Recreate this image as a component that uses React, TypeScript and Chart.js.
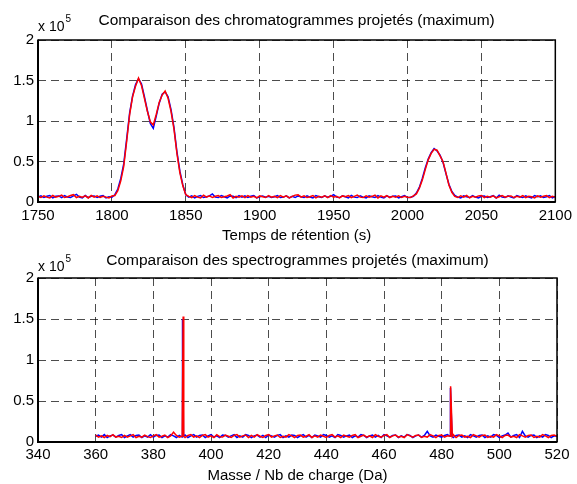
import React, { useEffect, useRef } from 'react';
import { Chart, registerables } from 'chart.js';

Chart.register(...registerables);

const FONT = '"Liberation Sans", Arial, Helvetica, sans-serif';

// ---------- Chromatogram (top plot): sampled every 2 s from 1750 s ----------
const chromaStart = 1750;
const chromaStep = 2;
const chromaRed = [
  0.07, 0.055, 0.075, 0.06, 0.05, 0.08, 0.06, 0.07, 0.085, 0.055,
  0.065, 0.08, 0.09, 0.055, 0.07, 0.06, 0.075, 0.05, 0.08, 0.06,
  0.075, 0.055, 0.07, 0.06, 0.05, 0.075, 0.08, 0.14, 0.26, 0.44,
  0.75, 1.08, 1.30, 1.43, 1.53, 1.44, 1.28, 1.12, 0.99, 0.95,
  1.08, 1.23, 1.32, 1.37, 1.28, 1.12, 0.90, 0.60, 0.36, 0.20,
  0.09, 0.07, 0.055, 0.08, 0.06, 0.05, 0.085, 0.06, 0.075, 0.055,
  0.07, 0.08, 0.055, 0.065, 0.075, 0.09, 0.05, 0.07, 0.06, 0.075,
  0.055, 0.08, 0.06, 0.07, 0.05, 0.075, 0.065, 0.055, 0.08, 0.06,
  0.07, 0.055, 0.08, 0.06, 0.075, 0.05, 0.07, 0.085, 0.09, 0.06,
  0.075, 0.055, 0.065, 0.08, 0.05, 0.07, 0.06, 0.075, 0.055, 0.08,
  0.06, 0.07, 0.05, 0.075, 0.065, 0.08, 0.055, 0.07, 0.085, 0.06,
  0.055, 0.075, 0.06, 0.07, 0.085, 0.05, 0.075, 0.06, 0.08, 0.055,
  0.07, 0.06, 0.075, 0.055, 0.07, 0.06, 0.055, 0.075, 0.10, 0.17,
  0.27, 0.40, 0.52, 0.60, 0.65, 0.64, 0.57, 0.50, 0.36, 0.21,
  0.12, 0.07, 0.055, 0.075, 0.06, 0.08, 0.05, 0.07, 0.06, 0.075,
  0.08, 0.055, 0.07, 0.06, 0.075, 0.05, 0.065, 0.08, 0.06, 0.07,
  0.075, 0.055, 0.07, 0.06, 0.08, 0.055, 0.07, 0.065, 0.05, 0.075,
  0.06, 0.07, 0.08, 0.055, 0.07, 0.06,
];
const chromaBlue = [
  0.06, 0.075, 0.055, 0.07, 0.08, 0.05, 0.07, 0.075, 0.055, 0.08,
  0.06, 0.055, 0.075, 0.095, 0.06, 0.05, 0.08, 0.055, 0.07, 0.075,
  0.055, 0.07, 0.08, 0.05, 0.065, 0.06, 0.09, 0.16, 0.29, 0.47,
  0.78, 1.10, 1.31, 1.45, 1.52, 1.46, 1.30, 1.13, 0.97, 0.91,
  1.06, 1.22, 1.33, 1.36, 1.30, 1.14, 0.92, 0.62, 0.38, 0.21,
  0.09, 0.06, 0.075, 0.05, 0.07, 0.08, 0.055, 0.065, 0.075, 0.10,
  0.06, 0.055, 0.08, 0.065, 0.05, 0.075, 0.07, 0.055, 0.08, 0.06,
  0.075, 0.055, 0.07, 0.08, 0.05, 0.065, 0.075, 0.06, 0.07, 0.055,
  0.065, 0.08, 0.055, 0.06, 0.075, 0.05, 0.07, 0.055, 0.075, 0.065,
  0.055, 0.075, 0.06, 0.05, 0.08, 0.065, 0.055, 0.075, 0.06, 0.07,
  0.09, 0.06, 0.055, 0.075, 0.065, 0.05, 0.08, 0.06, 0.055, 0.075,
  0.06, 0.05, 0.075, 0.065, 0.055, 0.08, 0.06, 0.05, 0.075, 0.06,
  0.07, 0.075, 0.05, 0.065, 0.08, 0.055, 0.06, 0.07, 0.11, 0.18,
  0.29, 0.42, 0.53, 0.61, 0.66, 0.63, 0.58, 0.49, 0.35, 0.22,
  0.13, 0.08, 0.06, 0.05, 0.075, 0.065, 0.055, 0.08, 0.06, 0.05,
  0.07, 0.075, 0.055, 0.065, 0.08, 0.05, 0.085, 0.06, 0.055, 0.075,
  0.06, 0.05, 0.08, 0.065, 0.055, 0.075, 0.06, 0.05, 0.08, 0.065,
  0.075, 0.055, 0.065, 0.08, 0.05, 0.07,
];
const chromaXTicks = [1750, 1800, 1850, 1900, 1950, 2000, 2050, 2100];

// ---------- Spectrogram (bottom plot): baseline every 1 Da from 360 ----------
const spectroStart = 360;
const spectroStep = 1;
const spectroRed = [
  0.085, 0.06, 0.075, 0.055, 0.08, 0.065, 0.09, 0.06, 0.07, 0.055,
  0.08, 0.06, 0.075, 0.09, 0.055, 0.07, 0.06, 0.085, 0.065, 0.055,
  0.075, 0.09, 0.06, 0.07, 0.085, 0.055, 0.075, 0.12, 0.08, 0.06,
  0.07, 0.055, 0.08, 0.09, 0.06, 0.075, 0.055, 0.08, 0.09, 0.06,
  0.075, 0.055, 0.09, 0.065, 0.06, 0.085, 0.07, 0.055, 0.08, 0.09,
  0.06, 0.075, 0.085, 0.055, 0.08, 0.06, 0.09, 0.07, 0.055, 0.08,
  0.09, 0.06, 0.075, 0.085, 0.055, 0.07, 0.06, 0.09, 0.075, 0.055,
  0.08, 0.085, 0.06, 0.07, 0.09, 0.055, 0.075, 0.06, 0.085, 0.07,
  0.055, 0.08, 0.09, 0.06, 0.075, 0.055, 0.085, 0.07, 0.06, 0.08,
  0.09, 0.055, 0.07, 0.085, 0.06, 0.075, 0.055, 0.09, 0.07, 0.06,
  0.08, 0.09, 0.055, 0.075, 0.085, 0.06, 0.07, 0.055, 0.09, 0.075,
  0.06, 0.08, 0.085, 0.055, 0.07, 0.06, 0.09, 0.075, 0.055, 0.08,
  0.085, 0.06, 0.075, 0.07, 0.09, 0.055, 0.08, 0.085, 0.06, 0.07,
  0.055, 0.09, 0.075, 0.06, 0.08, 0.085, 0.055, 0.07, 0.06, 0.09,
  0.075, 0.055, 0.08, 0.085, 0.06, 0.07, 0.055, 0.09, 0.075, 0.06,
  0.08, 0.085, 0.055, 0.07, 0.06, 0.09, 0.075, 0.055, 0.08, 0.085,
  0.07,
];
const spectroBlue = [
  0.07, 0.085, 0.06, 0.09, 0.055, 0.075, 0.085, 0.06, 0.08, 0.09,
  0.055, 0.075, 0.09, 0.06, 0.08, 0.085, 0.055, 0.075, 0.06, 0.09,
  0.06, 0.08, 0.085, 0.055, 0.075, 0.06, 0.09, 0.075, 0.055, 0.08,
  0.06, 0.085, 0.055, 0.075, 0.09, 0.06, 0.08, 0.085, 0.055, 0.075,
  0.09, 0.06, 0.075, 0.055, 0.085, 0.08, 0.06, 0.075, 0.09, 0.055,
  0.075, 0.06, 0.09, 0.08, 0.055, 0.075, 0.085, 0.06, 0.08, 0.055,
  0.085, 0.075, 0.06, 0.08, 0.09, 0.055, 0.075, 0.06, 0.085, 0.08,
  0.055, 0.075, 0.09, 0.06, 0.08, 0.055, 0.085, 0.075, 0.06, 0.09,
  0.08, 0.06, 0.075, 0.055, 0.09, 0.08, 0.06, 0.075, 0.085, 0.055,
  0.075, 0.06, 0.09, 0.08, 0.055, 0.075, 0.085, 0.06, 0.08, 0.055,
  0.09, 0.075, 0.06, 0.08, 0.085, 0.055, 0.075, 0.06, 0.09, 0.08,
  0.055, 0.075, 0.085, 0.06, 0.08, 0.13, 0.075, 0.06, 0.085, 0.07,
  0.06, 0.08, 0.09, 0.075, 0.055, 0.08, 0.085, 0.06, 0.075, 0.055,
  0.09, 0.075, 0.06, 0.08, 0.085, 0.055, 0.075, 0.06, 0.09, 0.08,
  0.055, 0.075, 0.085, 0.11, 0.06, 0.08, 0.09, 0.055, 0.13, 0.075,
  0.06, 0.08, 0.085, 0.055, 0.075, 0.06, 0.09, 0.08, 0.055, 0.075,
  0.07,
];
// narrow peaks between the 1 Da samples
const spectroRedPeakMass = [390.15, 390.35, 390.55, 483.0, 483.2, 483.7];
const spectroRedPeakValue = [0.07, 1.53, 0.07, 0.07, 0.68, 0.07];
const spectroBluePeakMass = [390.0, 390.25, 390.45, 482.9, 483.1, 483.6];
const spectroBluePeakValue = [0.07, 1.50, 0.07, 0.07, 0.66, 0.07];
const spectroXTicks = [340, 360, 380, 400, 420, 440, 460, 480, 500, 520];

const yTicks = [0, 0.5, 1, 1.5, 2];

type Pt = { x: number; y: number };

function uniformSeries(start: number, step: number, values: number[]): Pt[] {
  return values.map((v, i) => ({ x: start + i * step, y: v }));
}
function withPeaks(base: Pt[], mass: number[], vals: number[]): Pt[] {
  const extra = mass.map((m, i) => ({ x: m, y: vals[i] }));
  return [...base, ...extra].sort((a, b) => a.x - b.x);
}

const framePlugin = {
  id: 'frame',
  afterDraw(chart: any) {
    const { ctx, chartArea } = chart;
    const { left, right, top, bottom } = chartArea;
    ctx.save();
    ctx.strokeStyle = '#000';
    ctx.setLineDash([]);
    ctx.lineWidth = 1.5;
    ctx.beginPath();
    ctx.moveTo(left, top);
    ctx.lineTo(right, top);
    ctx.lineTo(right, bottom);
    ctx.stroke();
    ctx.lineWidth = 2;
    ctx.beginPath();
    ctx.moveTo(left, top - 0.5);
    ctx.lineTo(left, bottom);
    ctx.lineTo(right + 0.5, bottom);
    ctx.stroke();
    ctx.restore();
  },
};

const exponentPlugin = {
  id: 'exponent',
  afterDraw(chart: any, _args: any, opts: any) {
    const { ctx, chartArea } = chart;
    ctx.save();
    ctx.fillStyle = '#000';
    ctx.textAlign = 'left';
    ctx.textBaseline = 'alphabetic';
    ctx.font = `14px ${FONT}`;
    ctx.fillText(opts.base, chartArea.left, chartArea.top - opts.dyBase);
    const w = ctx.measureText(opts.base).width;
    ctx.font = `10px ${FONT}`;
    ctx.fillText(opts.sup, chartArea.left + w + 1, chartArea.top - opts.dySup);
    ctx.restore();
  },
};

function makeConfig(p: {
  red: Pt[];
  blue: Pt[];
  title: string;
  titlePad: { top: number; bottom: number };
  xTitle: string;
  xTitlePadBottom: number;
  xMin: number;
  xMax: number;
  xTicks: number[];
  xHeight: number;
  xTickPad: number;
  expBase: number;
  expSup: number;
}): any {
  const font = { family: FONT, size: 15, lineHeight: 1.2 };
  const grid = { color: 'rgba(0,0,0,0.7)', lineWidth: 1, drawTicks: false };
  const border = { display: false, dash: [8, 5] };
  return {
    type: 'line',
    data: {
      datasets: [
        { label: 'rouge', data: p.red, borderColor: '#ff0000', borderWidth: 1.5, pointRadius: 0, tension: 0, fill: false },
        { label: 'bleu', data: p.blue, borderColor: '#0000ff', borderWidth: 1.5, pointRadius: 0, tension: 0, fill: false },
      ],
    },
    options: {
      responsive: false,
      animation: false,
      events: [],
      layout: { padding: { left: 0, right: 20, top: 0, bottom: 0 } },
      plugins: {
        legend: { display: false },
        tooltip: { enabled: false },
        title: {
          display: true,
          text: p.title,
          fullSize: false,
          color: '#000',
          font: { family: FONT, size: 15.5, lineHeight: 18 / 15.5, weight: 'normal' },
          padding: p.titlePad,
        },
        exponent: { base: 'x 10', sup: '5', dyBase: p.expBase, dySup: p.expSup },
      },
      scales: {
        x: {
          type: 'linear',
          min: p.xMin,
          max: p.xMax,
          afterBuildTicks: (s: any) => {
            s.ticks = p.xTicks.map((v) => ({ value: v }));
          },
          afterFit: (s: any) => {
            s.height = p.xHeight;
          },
          ticks: {
            color: '#000',
            font,
            padding: p.xTickPad,
            autoSkip: false,
            maxRotation: 0,
            callback: (v: any) => String(v),
          },
          grid,
          border,
          title: {
            display: true,
            text: p.xTitle,
            color: '#000',
            font,
            padding: { top: 0, bottom: p.xTitlePadBottom },
          },
        },
        y: {
          type: 'linear',
          min: 0,
          max: 2,
          afterBuildTicks: (s: any) => {
            s.ticks = yTicks.map((v) => ({ value: v }));
          },
          afterFit: (s: any) => {
            s.width = 38;
          },
          ticks: {
            color: '#000',
            font,
            padding: 4,
            callback: (v: any) => String(v),
          },
          grid,
          border,
        },
      },
    },
    plugins: [framePlugin, exponentPlugin],
  };
}

export default function App() {
  const topRef = useRef<HTMLCanvasElement>(null);
  const bottomRef = useRef<HTMLCanvasElement>(null);

  useEffect(() => {
    const top = new Chart(
      topRef.current as HTMLCanvasElement,
      makeConfig({
        red: uniformSeries(chromaStart, chromaStep, chromaRed),
        blue: uniformSeries(chromaStart, chromaStep, chromaBlue),
        title: 'Comparaison des chromatogrammes projetés (maximum)',
        titlePad: { top: 12, bottom: 10 },
        xTitle: 'Temps de rétention (s)',
        xTitlePadBottom: 0,
        xMin: 1750,
        xMax: 2100,
        xTicks: chromaXTicks,
        xHeight: 43,
        xTickPad: 5,
        expBase: 9,
        expSup: 18,
      })
    );
    const bottom = new Chart(
      bottomRef.current as HTMLCanvasElement,
      makeConfig({
        red: withPeaks(uniformSeries(spectroStart, spectroStep, spectroRed), spectroRedPeakMass, spectroRedPeakValue),
        blue: withPeaks(uniformSeries(spectroStart, spectroStep, spectroBlue), spectroBluePeakMass, spectroBluePeakValue),
        title: 'Comparaison des spectrogrammes projetés (maximum)',
        titlePad: { top: 7, bottom: 8 },
        xTitle: 'Masse / Nb de charge (Da)',
        xTitlePadBottom: 1,
        xMin: 340,
        xMax: 520,
        xTicks: spectroXTicks,
        xHeight: 44,
        xTickPad: 4,
        expBase: 7,
        expSup: 16,
      })
    );
    return () => {
      top.destroy();
      bottom.destroy();
    };
  }, []);

  return (
    <div style={{ position: 'fixed', left: 0, top: 0, width: 577, height: 484, background: '#fff', overflow: 'hidden' }}>
      <canvas ref={topRef} width={577} height={245} style={{ position: 'absolute', left: 0, top: 0 }} />
      <canvas ref={bottomRef} width={577} height={241} style={{ position: 'absolute', left: 0, top: 245 }} />
    </div>
  );
}
